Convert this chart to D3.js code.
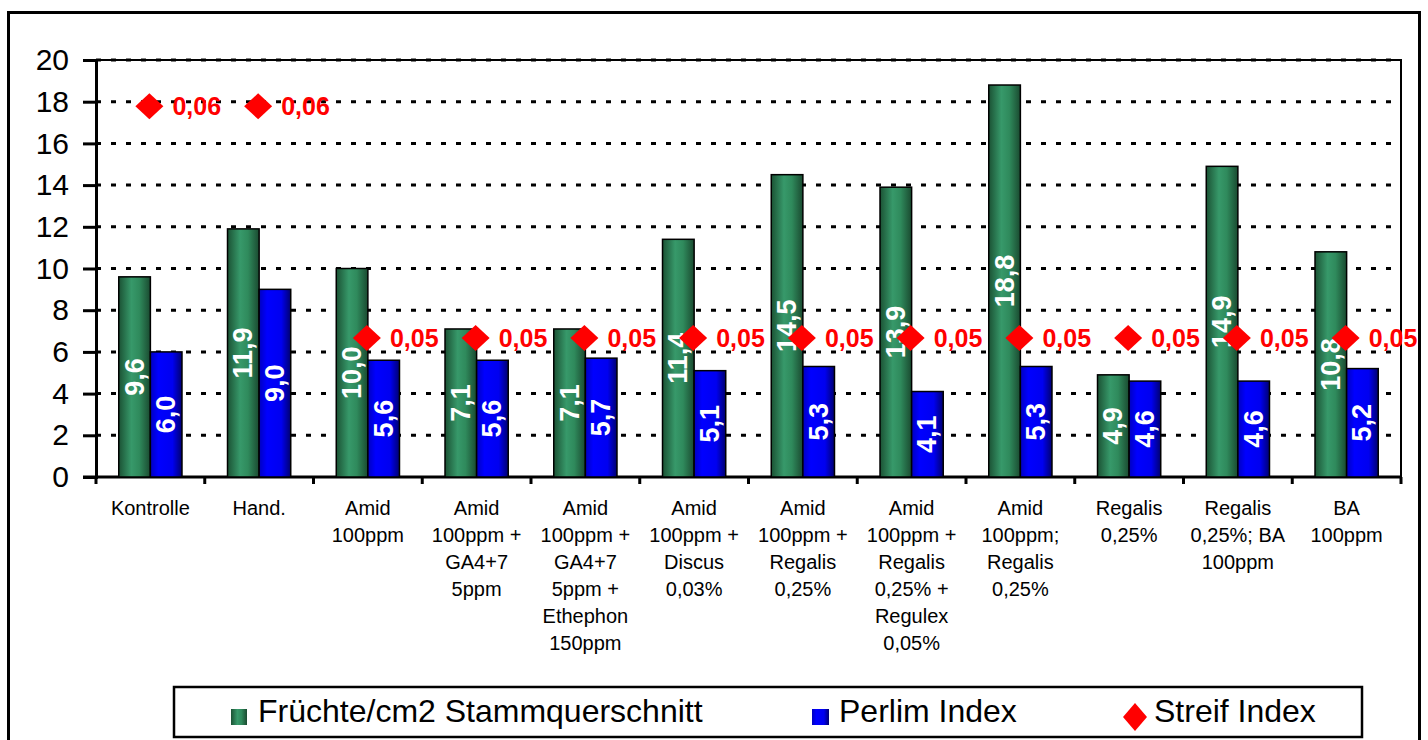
<!DOCTYPE html>
<meta charset="utf-8">
<style>
body { margin: 0; background: #fff; }
text { font-family: "Liberation Sans", Arial, sans-serif; }
.grid line { stroke: #000; stroke-width: 3px; stroke-dasharray: 5,10; }
.ytick { font-size: 30px; fill: #000; }
.xlab { font-size: 20px; fill: #000; text-anchor: middle; }
.val { font-size: 27px; font-weight: bold; fill: #fff; }
.streif { font-size: 25px; font-weight: bold; fill: #ff0000; }
.leg { font-size: 32px; fill: #000; }
</style>
<svg width="1428" height="740"></svg>
<script src="https://d3js.org/d3.v7.min.js"></script>
<script>

var categories = [
  ["Kontrolle"],
  ["Hand."],
  ["Amid", "100ppm"],
  ["Amid", "100ppm +", "GA4+7", "5ppm"],
  ["Amid", "100ppm +", "GA4+7", "5ppm +", "Ethephon", "150ppm"],
  ["Amid", "100ppm +", "Discus", "0,03%"],
  ["Amid", "100ppm +", "Regalis", "0,25%"],
  ["Amid", "100ppm +", "Regalis", "0,25% +", "Regulex", "0,05%"],
  ["Amid", "100ppm;", "Regalis", "0,25%"],
  ["Regalis", "0,25%"],
  ["Regalis", "0,25%; BA", "100ppm"],
  ["BA", "100ppm"]
];
var fruechte = [9.6, 11.9, 10.0, 7.1, 7.1, 11.4, 14.5, 13.9, 18.8, 4.9, 14.9, 10.8];
var perlim   = [6.0, 9.0, 5.6, 5.6, 5.7, 5.1, 5.3, 4.1, 5.3, 4.6, 4.6, 5.2];
var streif   = [0.06, 0.06, 0.05, 0.05, 0.05, 0.05, 0.05, 0.05, 0.05, 0.05, 0.05, 0.05];
var yTicks   = [0, 2, 4, 6, 8, 10, 12, 14, 16, 18, 20];
var seriesNames = ["Früchte/cm2 Stammquerschnitt", "Perlim Index", "Streif Index"];

var svg = d3.select("svg");
var pLeft = 96, pRight = 1401, pTop = 60, pBottom = 477;

var idx = d3.range(categories.length);
var x = d3.scaleBand().domain(idx).range([pLeft, pRight]).padding(0);
var inner = d3.scaleBand().domain(["f", "p"]).range([0, x.bandwidth()]).paddingInner(0).paddingOuter(0.72);
var y = d3.scaleLinear().domain([0, 20]).range([pBottom, pTop]);
var y2 = d3.scaleLinear().domain([0.044, 0.062]).range([pBottom, pTop]); // hidden secondary axis

var fmt = function(v) { return d3.format(".1f")(v).replace(".", ","); };
var fmt2 = function(v) { return d3.format(".2f")(v).replace(".", ","); };

// gradients
var defs = svg.append("defs");
var gG = defs.append("linearGradient").attr("id", "gGreen");
gG.append("stop").attr("offset", "0%").attr("stop-color", "#1b5234");
gG.append("stop").attr("offset", "40%").attr("stop-color", "#37996a");
gG.append("stop").attr("offset", "65%").attr("stop-color", "#2f8a5c");
gG.append("stop").attr("offset", "100%").attr("stop-color", "#1a4a30");
var gB = defs.append("linearGradient").attr("id", "gBlue");
gB.append("stop").attr("offset", "0%").attr("stop-color", "#0000c0");
gB.append("stop").attr("offset", "25%").attr("stop-color", "#0000ff");
gB.append("stop").attr("offset", "70%").attr("stop-color", "#0000f0");
gB.append("stop").attr("offset", "100%").attr("stop-color", "#000070");

// outer frame
svg.append("rect").attr("x", 8.5).attr("y", 12.5).attr("width", 1411).attr("height", 740)
  .attr("fill", "none").attr("stroke", "#000").attr("stroke-width", 3);

// gridlines
svg.append("g").attr("class", "grid")
  .selectAll("line").data(yTicks.filter(function(d) { return d > 0; }))
  .enter().append("line")
  .attr("x1", pLeft).attr("x2", pRight)
  .attr("y1", function(d) { return y(d); }).attr("y2", function(d) { return y(d); });

// plot frame
svg.append("rect").attr("x", pLeft).attr("y", pTop).attr("width", pRight - pLeft).attr("height", pBottom - pTop)
  .attr("fill", "none").attr("stroke", "#000").attr("stroke-width", 2);

// y axis
var yAxis = svg.append("g").attr("transform", "translate(" + pLeft + ",0)")
  .call(d3.axisLeft(y).tickValues(yTicks).tickSize(13).tickPadding(14).tickFormat(d3.format("d")));
yAxis.select(".domain").attr("stroke-width", 3);
yAxis.selectAll(".tick line").attr("stroke-width", 3);
yAxis.selectAll("text").attr("class", "ytick");
yAxis.attr("font-size", null).attr("font-family", null);

// x axis
var xAxis = svg.append("g").attr("transform", "translate(0," + pBottom + ")");
xAxis.append("line").attr("x1", pLeft - 13).attr("x2", pRight).attr("stroke", "#000").attr("stroke-width", 3);
xAxis.selectAll(".xt").data(d3.range(categories.length + 1)).enter().append("line")
  .attr("x1", function(d) { return pLeft + d * x.step(); })
  .attr("x2", function(d) { return pLeft + d * x.step(); })
  .attr("y1", 0).attr("y2", 7).attr("stroke", "#000").attr("stroke-width", 3);

var lab = svg.append("g").selectAll("text").data(categories).enter().append("text")
  .attr("class", "xlab")
  .attr("x", function(d, i) { return x(i) + x.bandwidth() / 2; })
  .attr("y", 515);
lab.selectAll("tspan").data(function(d) { return d; }).enter().append("tspan")
  .attr("x", function() { return d3.select(this.parentNode).attr("x"); })
  .attr("dy", function(d, i) { return i === 0 ? 0 : 27; })
  .text(function(d) { return d; });

// bars
var groups = svg.append("g").selectAll("g").data(idx).enter().append("g")
  .attr("transform", function(i) { return "translate(" + x(i) + ",0)"; });

groups.append("rect")
  .attr("x", inner("f")).attr("width", inner.bandwidth())
  .attr("y", function(i) { return y(fruechte[i]); })
  .attr("height", function(i) { return pBottom - y(fruechte[i]); })
  .attr("fill", "url(#gGreen)").attr("stroke", "#000").attr("stroke-width", 1.5);

groups.append("rect")
  .attr("x", inner("p")).attr("width", inner.bandwidth())
  .attr("y", function(i) { return y(perlim[i]); })
  .attr("height", function(i) { return pBottom - y(perlim[i]); })
  .attr("fill", "url(#gBlue)").attr("stroke", "#000").attr("stroke-width", 1.5);

groups.append("text").attr("class", "val")
  .attr("text-anchor", "middle").attr("dominant-baseline", "central")
  .attr("transform", function(i) {
    return "translate(" + (inner("f") + inner.bandwidth() / 2) + "," + (y(fruechte[i]) + pBottom) / 2 + ") rotate(-90)";
  })
  .text(function(i) { return fmt(fruechte[i]); });

groups.append("text").attr("class", "val")
  .attr("text-anchor", "middle").attr("dominant-baseline", "central")
  .attr("transform", function(i) {
    return "translate(" + (inner("p") + inner.bandwidth() / 2) + "," + (y(perlim[i]) + pBottom) / 2 + ") rotate(-90)";
  })
  .text(function(i) { return fmt(perlim[i]); });

// streif diamonds
var diamond = function(cx, cy, rx, ry) {
  return "M" + cx + "," + (cy - ry) + "L" + (cx + rx) + "," + cy + "L" + cx + "," + (cy + ry) + "L" + (cx - rx) + "," + cy + "Z";
};
var sg = svg.append("g");
sg.selectAll("path").data(idx).enter().append("path")
  .attr("d", function(i) { return diamond(x(i) + x.bandwidth() / 2 - 1, y2(streif[i]), 14, 13); })
  .attr("fill", "#ff0000");
sg.selectAll("text").data(idx).enter().append("text").attr("class", "streif")
  .attr("x", function(i) { return x(i) + x.bandwidth() / 2 + 22; })
  .attr("y", function(i) { return y2(streif[i]) + 9; })
  .text(function(i) { return fmt2(streif[i]); });

// legend
var lg = svg.append("g");
lg.append("rect").attr("x", 174).attr("y", 687).attr("width", 1188).attr("height", 50)
  .attr("fill", "#fff").attr("stroke", "#000").attr("stroke-width", 2.5);
lg.append("rect").attr("x", 231).attr("y", 709).attr("width", 16).attr("height", 16).attr("fill", "url(#gGreen)");
lg.append("text").attr("class", "leg").attr("x", 258).attr("y", 722).text(seriesNames[0]);
lg.append("rect").attr("x", 812).attr("y", 709).attr("width", 17).attr("height", 16).attr("fill", "url(#gBlue)");
lg.append("text").attr("class", "leg").attr("x", 839).attr("y", 722).text(seriesNames[1]);
lg.append("path").attr("d", diamond(1135, 717, 12, 14)).attr("fill", "#ff0000");
lg.append("text").attr("class", "leg").attr("x", 1154).attr("y", 722).text(seriesNames[2]);

</script>
